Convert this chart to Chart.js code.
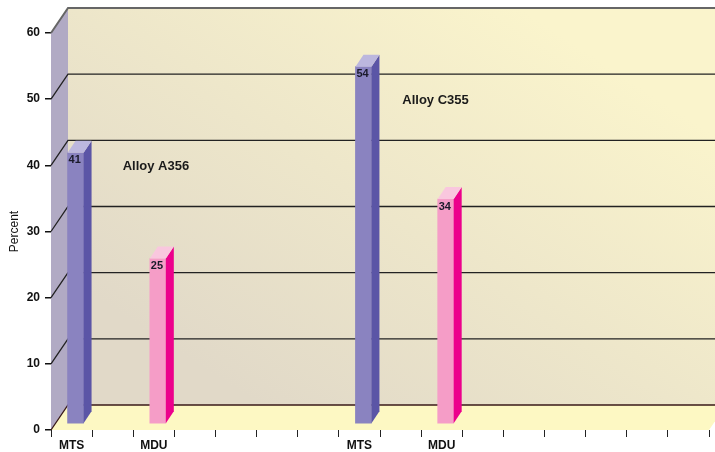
<!DOCTYPE html>
<html>
<head>
<meta charset="utf-8">
<script src="https://cdn.jsdelivr.net/npm/chart.js@4/dist/chart.umd.min.js"></script>
<style>
  html, body { margin: 0; padding: 0; background: #fff; }
  #wrap { width: 715px; height: 452px; }
</style>
</head>
<body>
<div id="wrap"><canvas id="alloyChart"></canvas></div>
<script>
// данные графика
var categories = ["MTS", "", "MDU", "", "", "", "", "MTS", "", "MDU", "", "", "", "", "", ""];
var percent = [41, null, 25, null, null, null, null, 54, null, 34, null, null, null, null, null, null];
var yTicks = [0, 10, 20, 30, 40, 50, 60];
var groupNotes = [
  { text: "Alloy A356", cat: 2.05, value: 39.8 },
  { text: "Alloy C355", cat: 8.85, value: 49.8 }
];

// цвета граней
var faces = {
  MTS: { front: "#8a83c0", side: "#5b55a6", top: "#bcb7de" },
  MDU: { front: "#f59dc7", side: "#ec008c", top: "#f9c7de" }
};
var DX = 17, DY = -25;      // глубина стенок
var BX = 4, BY = -6;        // смещение столбиков
var BDX = 8, BDY = -12;     // глубина столбиков

var box3d = {
  id: "box3d",
  beforeDatasetsDraw: function (chart) {
    var ctx = chart.ctx, a = chart.chartArea;
    var y = chart.scales.y;
    ctx.save();
    // задняя стенка
    var g = ctx.createLinearGradient(520, a.top + DY, 260, a.bottom + DY);
    g.addColorStop(0, "#faf4cc");
    g.addColorStop(1, "#e1d9c8");
    ctx.fillStyle = g;
    ctx.fillRect(a.left + DX, a.top + DY, a.right - a.left + 20, a.bottom - a.top);
    // пол
    ctx.fillStyle = "#fdf8c3";
    ctx.beginPath();
    ctx.moveTo(a.left, a.bottom);
    ctx.lineTo(a.left + DX, a.bottom + DY);
    ctx.lineTo(a.right + DX, a.bottom + DY);
    ctx.lineTo(a.right, a.bottom);
    ctx.closePath();
    ctx.fill();
    // боковая стенка
    ctx.fillStyle = "#b1aac4";
    ctx.beginPath();
    ctx.moveTo(a.left, a.top);
    ctx.lineTo(a.left + DX, a.top + DY);
    ctx.lineTo(a.left + DX, a.bottom + DY);
    ctx.lineTo(a.left, a.bottom);
    ctx.closePath();
    ctx.fill();
    // сетка
    yTicks.forEach(function (v) {
      var py = y.getPixelForValue(v);
      ctx.strokeStyle = v == 60 ? "#666" : (v == 0 ? "#3a1a1a" : "#222");
      ctx.lineWidth = v == 60 ? 2 : 1.3;
      ctx.beginPath();
      ctx.moveTo(a.left, py);
      ctx.lineTo(a.left + DX, py + DY);
      ctx.lineTo(a.right + DX + 10, py + DY);
      ctx.stroke();
    });
    ctx.restore();
    // сдвиг столбиков вглубь
    ctx.save();
    ctx.translate(BX, BY);
  },
  afterDatasetsDraw: function (chart) {
    var ctx = chart.ctx;
    var meta = chart.getDatasetMeta(0);
    meta.data.forEach(function (bar, i) {
      if (percent[i] == null) return;
      var c = faces[categories[i]];
      var L = bar.x - bar.width / 2, R = bar.x + bar.width / 2;
      var T = bar.y, B = bar.base;
      ctx.fillStyle = c.side;
      ctx.beginPath();
      ctx.moveTo(R, T); ctx.lineTo(R + BDX, T + BDY);
      ctx.lineTo(R + BDX, B + BDY); ctx.lineTo(R, B);
      ctx.closePath(); ctx.fill();
      ctx.fillStyle = c.top;
      ctx.beginPath();
      ctx.moveTo(L, T); ctx.lineTo(L + BDX, T + BDY);
      ctx.lineTo(R + BDX, T + BDY); ctx.lineTo(R, T);
      ctx.closePath(); ctx.fill();
      ctx.fillStyle = "#1a1a2a";
      ctx.font = "bold 11px 'Liberation Sans'";
      ctx.textAlign = "left";
      ctx.textBaseline = "top";
      ctx.fillText(String(percent[i]), L + 1, T + 2);
    });
    ctx.restore();
    // подписи групп
    var x = chart.scales.x, y = chart.scales.y;
    ctx.save();
    ctx.fillStyle = "#1a1a1a";
    ctx.font = "bold 13px 'Liberation Sans'";
    ctx.textAlign = "center";
    ctx.textBaseline = "middle";
    groupNotes.forEach(function (n) {
      ctx.fillText(n.text, x.getPixelForValue(n.cat), y.getPixelForValue(n.value));
    });
    ctx.restore();
  }
};

var ctx = document.getElementById("alloyChart").getContext("2d");
var alloyChart = new Chart(ctx, {
  type: "bar",
  data: {
    labels: categories,
    datasets: [
      {
        label: "Percent",
        data: percent,
        backgroundColor: categories.map(function (c) { return c ? faces[c].front : "#000"; }),
        barThickness: 16,
        borderWidth: 0
      }
    ]
  },
  options: {
    responsive: true,
    maintainAspectRatio: false,
    animation: false,
    layout: { padding: { left: 0, right: 6, top: 33, bottom: 0 } },
    plugins: { legend: { display: false }, tooltip: { enabled: false } },
    scales: {
      x: {
        grid: { offset: true, drawOnChartArea: false, drawTicks: true, tickLength: 7, color: "#222", lineWidth: 1 },
        border: { display: false },
        ticks: { color: "#111", font: { family: "Liberation Sans", size: 12, weight: "bold" }, padding: 1, maxRotation: 0, autoSkip: false },
        afterFit: function (s) { s.height = 22; }
      },
      y: {
        min: 0,
        max: 60,
        ticks: { stepSize: 10, color: "#111", font: { family: "Liberation Sans", size: 12, weight: "bold" }, padding: 5 },
        grid: { drawOnChartArea: false, drawTicks: true, tickLength: 6, color: "#111", lineWidth: 1.5 },
        border: { display: false },
        title: { display: true, text: "Percent", color: "#111", font: { family: "Liberation Sans", size: 12 }, padding: { top: 7, bottom: 0 } },
        afterFit: function (s) { s.width = 51; }
      }
    }
  },
  plugins: [box3d]
});
</script>
</body>
</html>
